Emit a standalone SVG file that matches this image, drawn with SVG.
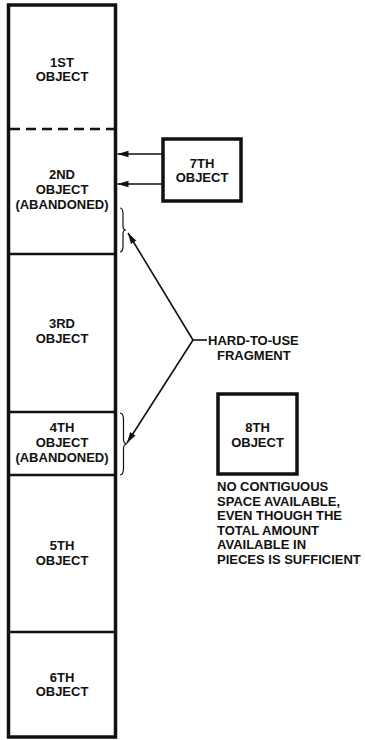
<svg xmlns="http://www.w3.org/2000/svg" width="365" height="740" viewBox="0 0 365 740">
<style>
text{font-family:"Liberation Sans",Arial,sans-serif;font-weight:bold;font-size:13px;fill:#111}
.c{text-anchor:middle}
.box{fill:#fff;stroke:#111;stroke-width:3.5}
.div{stroke:#111;stroke-width:2.5;fill:none}
.ln{stroke:#111;stroke-width:1.6;fill:none}
.br{stroke:#111;stroke-width:1.2;fill:none}
</style>
<defs>
<marker id="ah" markerWidth="12" markerHeight="8" refX="11" refY="4" orient="auto" markerUnits="userSpaceOnUse">
<path d="M0,0.8 L11,4 L0,7.2 Z" fill="#111"/>
</marker>
</defs>
<rect width="365" height="740" fill="#fff"/>
<g id="memory">
<rect x="8.5" y="5" width="107" height="732" class="box" stroke-width="3"/>
<line x1="10" y1="129" x2="114" y2="129" class="div" stroke-dasharray="10,6"/>
<line x1="10" y1="254" x2="114" y2="254" class="div"/>
<line x1="10" y1="412" x2="114" y2="412" class="div"/>
<line x1="10" y1="475" x2="114" y2="475" class="div"/>
<line x1="10" y1="632" x2="114" y2="632" class="div"/>
</g>
<g id="obj1"><text class="c" x="62" y="66.5">1ST</text><text class="c" x="62" y="81">OBJECT</text></g>
<g id="obj2"><text class="c" x="62" y="179">2ND</text><text class="c" x="62" y="194">OBJECT</text><text class="c" x="62" y="209">(ABANDONED)</text></g>
<g id="obj3"><text class="c" x="62" y="328">3RD</text><text class="c" x="62" y="343">OBJECT</text></g>
<g id="obj4"><text class="c" x="62" y="432">4TH</text><text class="c" x="62" y="447">OBJECT</text><text class="c" x="62" y="462">(ABANDONED)</text></g>
<g id="obj5"><text class="c" x="62" y="550">5TH</text><text class="c" x="62" y="565">OBJECT</text></g>
<g id="obj6"><text class="c" x="62" y="682">6TH</text><text class="c" x="62" y="696">OBJECT</text></g>
<g id="obj7"><rect x="163" y="139" width="78" height="62" class="box"/><text class="c" x="202" y="168">7TH</text><text class="c" x="202" y="182">OBJECT</text></g>
<g id="obj8"><rect x="218" y="394" width="79" height="80" class="box"/><text class="c" x="257.5" y="432">8TH</text><text class="c" x="257.5" y="447">OBJECT</text></g>
<g id="fragment-label"><text x="208" y="345">HARD-TO-USE</text><text x="217" y="359.5">FRAGMENT</text></g>
<g id="note"><text x="217" y="491">NO CONTIGUOUS</text><text x="217" y="505.5">SPACE AVAILABLE,</text><text x="217" y="520">EVEN THOUGH THE</text><text x="217" y="534.5">TOTAL AMOUNT</text><text x="217" y="549">AVAILABLE IN</text><text x="217" y="564">PIECES IS SUFFICIENT</text></g>
<g id="connectors">
<line x1="163" y1="154" x2="117.5" y2="154" class="ln" marker-end="url(#ah)"/>
<line x1="163" y1="184" x2="117.5" y2="184" class="ln" marker-end="url(#ah)"/>
<path d="M120,208 Q123,208 123,214 L123,226 Q123,230 126,230 Q123,230 123,234 L123,246 Q123,252 120,252" class="br"/>
<path d="M120,413 Q123.5,413 123.5,420 L123.5,439 Q123.5,444 127,444 Q123.5,444 123.5,449 L123.5,468 Q123.5,475 120,475" class="br"/>
<line x1="207" y1="340" x2="193" y2="340" class="ln"/>
<line x1="193" y1="340" x2="128" y2="233" class="ln" marker-end="url(#ah)"/>
<line x1="193" y1="340" x2="127" y2="443" class="ln" marker-end="url(#ah)"/>
</g>
</svg>
